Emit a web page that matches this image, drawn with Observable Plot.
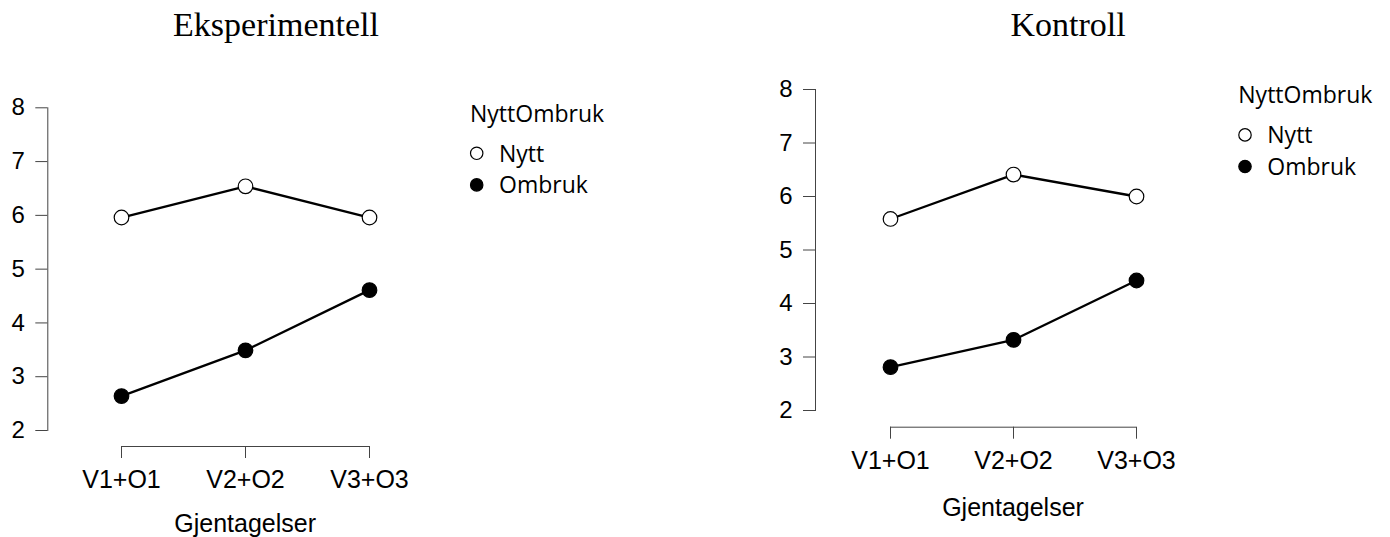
<!DOCTYPE html>
<html><head><meta charset="utf-8">
<script src="https://cdn.jsdelivr.net/npm/d3@7"></script>
<script src="https://cdn.jsdelivr.net/npm/@observablehq/plot@0.6"></script>
<style>
body{margin:0;background:#fff;}
#wrap{position:relative;width:1390px;height:537px;overflow:hidden;background:#fff;}
.panel{position:absolute;top:0;}
#overlay{position:absolute;left:0;top:0;}
</style></head><body><div id="wrap"></div>
<script>
// ---- data ----
const categories = ["V1+O1", "V2+O2", "V3+O3"];
const groups = ["Nytt", "Ombruk"];
const eksNytt = [5.96, 6.54, 5.96];
const eksOmbruk = [2.64, 3.49, 4.61];
const konNytt = [5.58, 6.41, 6.00];
const konOmbruk = [2.81, 3.32, 4.43];
const yTicks = [2, 3, 4, 5, 6, 7, 8];
const panelTitles = ["Eksperimentell", "Kontroll"];
const xTitle = "Gjentagelser";
const legendTitle = "NyttOmbruk";

// ---- layout ----
const W = 1390, H = 537, PW = 695;
const layouts = [
  {left: 0, axisX: 47.3, firstX: 121, lastX: 369.3, top: 107.3, bottom: 430, gap: 16,
   titleX: 276, titleY: 36, xTitleY: 532, legX: 470, legY: 121.7},
  {left: 695, axisX: 815, firstX: 889.3, lastX: 1136.7, top: 89, bottom: 410, gap: 16.7,
   titleX: 1068, titleY: 36, xTitleY: 516, legX: 1238.3, legY: 103.3}
];
const series = [[eksNytt, eksOmbruk], [konNytt, konOmbruk]];

const wrap = document.getElementById("wrap");

layouts.forEach((p, k) => {
  const [nytt, ombruk] = series[k];
  const rows = [];
  categories.forEach((c, i) => {
    rows.push({cat: c, group: groups[0], value: nytt[i]});
    rows.push({cat: c, group: groups[1], value: ombruk[i]});
  });
  const chart = Plot.plot({
    width: PW, height: H,
    marginLeft: p.axisX - p.left,
    marginRight: PW - (p.lastX - p.left),
    marginTop: p.top,
    marginBottom: H - p.bottom,
    x: {type: "point", domain: categories, padding: 0, insetLeft: p.firstX - p.axisX},
    y: {domain: [yTicks[0], yTicks[yTicks.length - 1]]},
    color: {domain: groups, range: ["white", "black"]},
    style: {fontFamily: "'Liberation Sans', Arial, sans-serif", fontSize: "24px", color: "black", background: "transparent", overflow: "visible"},
    marks: [
      Plot.frame({anchor: "left", stroke: "#444"}),
      Plot.axisY({ticks: yTicks, tickFormat: d => String(d), tickSize: 12, tickPadding: 11, fontSize: 24, stroke: "#444", label: null}),
      Plot.ruleY([yTicks[0]], {x1: () => categories[0], x2: () => categories[categories.length - 1], dy: p.gap, stroke: "#444"}),
      Plot.axisX({tickSize: 12, tickPadding: 12, fontSize: 25, dy: p.gap, stroke: "#444", label: null}),
      Plot.line(rows, {x: "cat", y: "value", z: "group", stroke: "black", strokeWidth: 2.3}),
      Plot.dot(rows, {x: "cat", y: "value", r: 7.3, fill: "group", stroke: "black", strokeWidth: 1.2})
    ]
  });
  chart.classList.add("panel");
  chart.style.left = p.left + "px";
  wrap.appendChild(chart);
});

// ---- overlay: titles, x titles, legends ----
const svg = d3.select(wrap).append("svg").attr("id", "overlay").attr("width", W).attr("height", H);
layouts.forEach((p, k) => {
  svg.append("text").attr("x", p.titleX).attr("y", p.titleY).attr("text-anchor", "middle")
    .attr("font-family", "'Liberation Serif', serif").attr("font-size", 34).attr("fill", "black")
    .text(panelTitles[k]);
  svg.append("text").attr("x", (p.firstX + p.lastX) / 2).attr("y", p.xTitleY).attr("text-anchor", "middle")
    .attr("font-family", "'Liberation Sans', Arial, sans-serif").attr("font-size", 25).attr("fill", "black")
    .text(xTitle);
  const g = svg.append("g").attr("transform", `translate(${p.legX},${p.legY})`)
    .attr("font-family", "'Open Sans', sans-serif").attr("font-size", 23).attr("fill", "black");
  g.append("text").attr("x", 0).attr("y", 0).text(legendTitle);
  groups.forEach((gname, i) => {
    const by = i === 0 ? 40 : 71.6;
    g.append("circle").attr("cx", 6.7).attr("cy", by - 8.4).attr("r", 6.2)
      .attr("fill", i === 0 ? "white" : "black").attr("stroke", "black").attr("stroke-width", 1.2);
    g.append("text").attr("x", 29).attr("y", by).text(gname);
  });
});
</script></body></html>
